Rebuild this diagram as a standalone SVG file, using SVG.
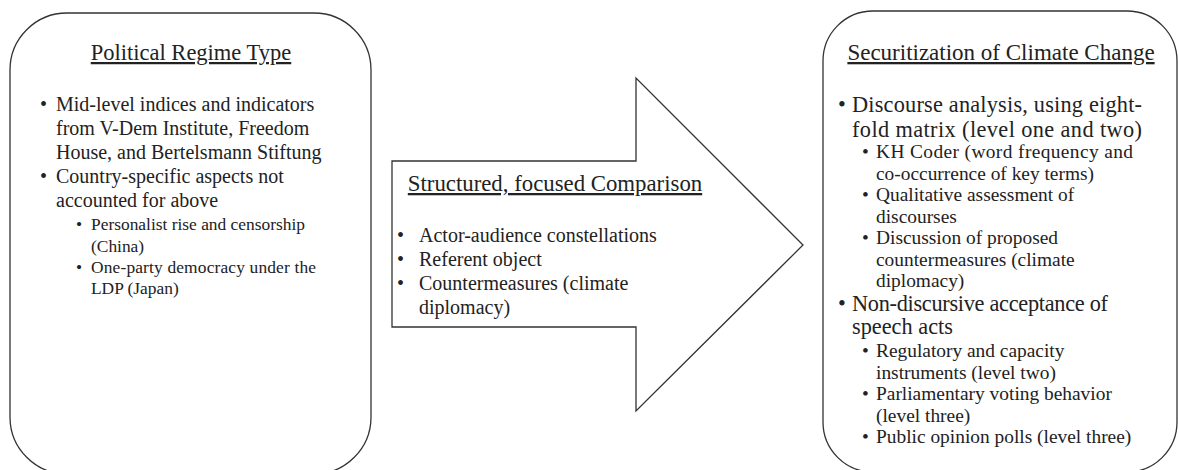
<svg xmlns="http://www.w3.org/2000/svg" width="1178" height="470" viewBox="0 0 1178 470">
<style>
.box{fill:#fff;stroke:#333;stroke-width:1.3}
text{font-family:"Liberation Serif","Times New Roman",serif;fill:#222}
.t{font-size:22.5px;text-anchor:middle;text-decoration:underline}
.m{font-size:20px}
.s{font-size:17.4px}
.rm{font-size:22.3px}
.rs{font-size:19.4px}
</style>
<rect width="1178" height="470" fill="#fff"/>
<g id="political-regime-type">
<rect class="box" x="10" y="13" width="361" height="461" rx="57" ry="57"/>
<text class="t" x="191" y="60">Political Regime Type</text>
<text class="m" x="40" y="111">•</text><text class="m" x="56" y="111">Mid-level indices and indicators</text>
<text class="m" x="56" y="135">from V-Dem Institute, Freedom</text>
<text class="m" x="56" y="159">House, and Bertelsmann Stiftung</text>
<text class="m" x="40" y="183">•</text><text class="m" x="56" y="183">Country-specific aspects not</text>
<text class="m" x="56" y="207">accounted for above</text>
<text class="s" x="76" y="230">•</text><text class="s" x="91" y="230">Personalist rise and censorship</text>
<text class="s" x="91" y="252">(China)</text>
<text class="s" x="76" y="273">•</text><text class="s" x="91" y="273" textLength="225" lengthAdjust="spacing">One-party democracy under the</text>
<text class="s" x="91" y="294">LDP (Japan)</text>
</g>
<g id="structured-focused-comparison">
<polygon class="box" points="392,161 636,161 636,78 803,245 636,411 636,327 392,327"/>
<text class="t" x="555" y="191" style="font-size:22.8px">Structured, focused Comparison</text>
<text class="m" x="397" y="242">•</text><text class="m" x="419" y="242">Actor-audience constellations</text>
<text class="m" x="397" y="266">•</text><text class="m" x="419" y="266">Referent object</text>
<text class="m" x="397" y="290">•</text><text class="m" x="419" y="290">Countermeasures (climate</text>
<text class="m" x="419" y="314">diplomacy)</text>
</g>
<g id="securitization-of-climate-change">
<rect class="box" x="823" y="11" width="354" height="461" rx="50" ry="50"/>
<text class="t" x="1001" y="60" style="font-size:23px">Securitization of Climate Change</text>
<text class="rm" x="838" y="112">•</text><text class="rm" x="852" y="112" textLength="290" lengthAdjust="spacing">Discourse analysis, using eight-</text>
<text class="rm" x="852" y="137" textLength="290" lengthAdjust="spacing">fold matrix (level one and two)</text>
<text class="rs" x="862" y="158">•</text><text class="rs" x="876" y="158" textLength="257" lengthAdjust="spacing">KH Coder (word frequency and</text>
<text class="rs" x="876" y="179.5">co-occurrence of key terms)</text>
<text class="rs" x="862" y="201">•</text><text class="rs" x="876" y="201">Qualitative assessment of</text>
<text class="rs" x="876" y="222.5">discourses</text>
<text class="rs" x="862" y="244">•</text><text class="rs" x="876" y="244">Discussion of proposed</text>
<text class="rs" x="876" y="265.5">countermeasures (climate</text>
<text class="rs" x="876" y="287">diplomacy)</text>
<text class="rm" x="838" y="311">•</text><text class="rm" x="852" y="311" textLength="256" lengthAdjust="spacing">Non-discursive acceptance of</text>
<text class="rm" x="852" y="334">speech acts</text>
<text class="rs" x="862" y="357">•</text><text class="rs" x="876" y="357">Regulatory and capacity</text>
<text class="rs" x="876" y="378.5">instruments (level two)</text>
<text class="rs" x="862" y="400">•</text><text class="rs" x="876" y="400">Parliamentary voting behavior</text>
<text class="rs" x="876" y="421.5">(level three)</text>
<text class="rs" x="862" y="443">•</text><text class="rs" x="876" y="443">Public opinion polls (level three)</text>
</g>
<g id="connectors"></g>
</svg>
